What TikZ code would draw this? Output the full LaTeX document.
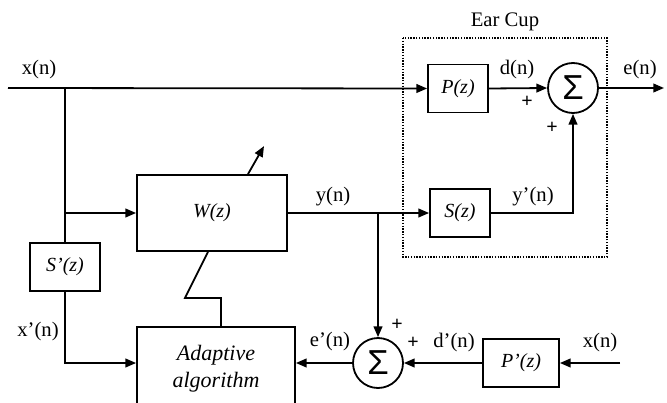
\documentclass[tikz,border=0pt]{standalone}
\usepackage{fontspec}
\setmainfont{Liberation Serif}
\newfontfamily\sumfont{Liberation Sans}
\usetikzlibrary{arrows.meta,calc}
\begin{document}
\begin{tikzpicture}[x=0.75pt,y=-0.75pt, line width=1.35pt,
 blk/.style={draw, rectangle, font=\itshape\fontsize{15}{17}\selectfont, inner sep=0},
 sumc/.style={draw, circle, minimum size=37.5pt, inner sep=0, font=\sumfont\fontsize{26}{26}\selectfont},
 lbl/.style={font=\fontsize{15.5}{17}\selectfont, inner sep=0},
 pl/.style={font=\bfseries\fontsize{15}{15}\selectfont, inner sep=0},
 sig/.style={-{Triangle[length=8pt,width=6.5pt]}},
 cup/.style={draw, densely dotted, line width=1.1pt},
 ]
\useasboundingbox (0,0) rectangle (667,403);
\clip (0,0) rectangle (667,403);

% blocks
\node[blk, minimum width=45pt, minimum height=36pt] (P) at (458,88.5) {P(z)};
\node[blk, minimum width=45pt, minimum height=36pt] (S) at (460,213) {S(z)};
\node[blk, minimum width=112.5pt, minimum height=57pt] (W) at (212,213) {W(z)};
\node[blk, minimum width=52.5pt, minimum height=36pt] (Sp) at (65,267) {S’(z)};
\node[blk, minimum width=118.5pt, minimum height=62pt, align=center, font=\itshape\fontsize{16.5}{20}\selectfont] (Ad) at (216,368.5) {Adaptive\\algorithm};
\node[blk, minimum width=57pt, minimum height=36pt] (Pp) at (521,363) {P’(z)};
\node[sumc] (S1) at (573,88) {Σ};
\node[sumc] (S2) at (378,363) {Σ};

% ear cup
\draw[cup] (403,38) rectangle (607,257);
\node[lbl] (ear) at (505,22) {Ear Cup};

% coordinates
\coordinate (xin) at (8,88);
\coordinate (j1) at (65,88);
\coordinate (j2) at (65,213);
\coordinate (j3) at (378,213);
\coordinate (eout) at (664,88);
\coordinate (xin2) at (620,363);

% connectors
\draw[sig] (xin) -- (P.west);
\draw (j1) -- (Sp.north);
\draw[sig] (j2) -- (W.west);
\draw[sig] (Sp.south) |- (Ad.west |- S2);
\draw[sig] (P.east) -- (S1.west);
\draw[sig] (S1.east) -- (eout);
\draw[sig] (W.east |- j3) -- (S.west);
\draw[sig] (j3) -- (S2.north);
\draw[sig] (S.east) -| (S1.south);
\draw[sig] (xin2) -- (Pp.east);
\draw[sig] (Pp.west) -- (S2.east);
\draw[sig] (S2.west) -- (Ad.east |- S2);
\draw ([xshift=-3pt]W.south) -- ++(-23,46) -| ([xshift=3.75pt]Ad.north);
\draw[sig] ([xshift=27pt]W.north) -- ++(16,-28);

% labels
\node[lbl] (lx) at (39,70) {x(n)};
\node[lbl] (ld) at (517,70) {d(n)};
\node[lbl] (le) at (640,70) {e(n)};
\node[lbl] (ly) at (333,197) {y(n)};
\node[lbl] (lyp) at (533,197) {y’(n)};
\node[lbl] (lxp) at (38,332) {x’(n)};
\node[lbl] (lep) at (330,342) {e’(n)};
\node[lbl] (ldp) at (454,343) {d’(n)};
\node[lbl] (lx2) at (600,343) {x(n)};
\node[pl] (p1) at (527,102) {+};
\node[pl] (p2) at (552,128) {+};
\node[pl] (p3) at (397,325) {+};
\node[pl] (p4) at (413,343) {+};
\end{tikzpicture}
\end{document}
